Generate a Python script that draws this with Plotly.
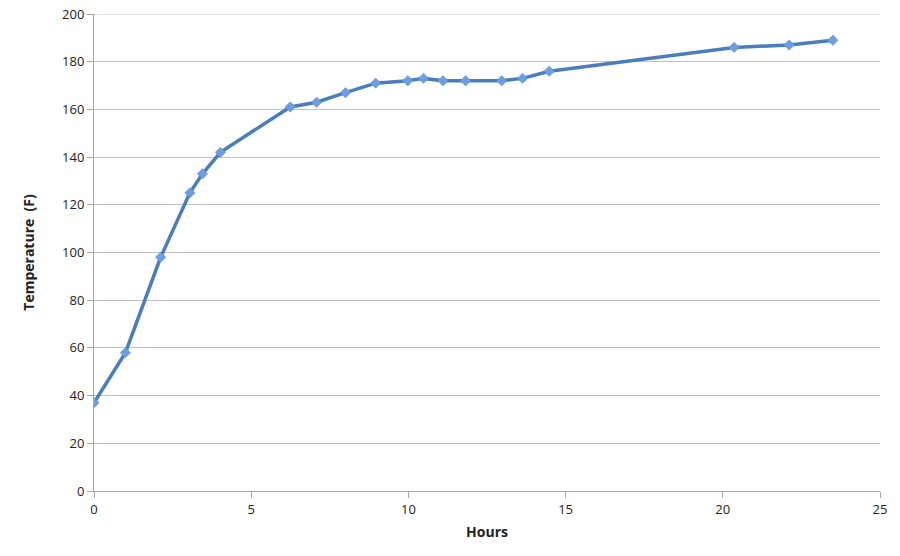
import plotly.graph_objects as go

hours = [0, 1.0, 2.12, 3.05, 3.45, 4.02, 6.24, 7.08, 8.0, 8.96, 9.98, 10.48,
         11.1, 11.82, 12.97, 13.63, 14.48, 20.36, 22.11, 23.5]
temps = [37, 58, 98, 125, 133, 142, 161, 163, 167, 171, 172, 173,
         172, 172, 172, 173, 176, 186, 187, 189]
y_max = 200

fig = go.Figure()
fig.add_trace(go.Scatter(
    x=hours, y=temps, mode="lines+markers",
    line=dict(color="#4a7ebb", width=3.5),
    marker=dict(symbol="diamond", size=8, color="#6d9ee0",
                line=dict(color="#5a8bd0", width=0.5)),
    showlegend=False,
))

# top gridline (plotly omits the grid line at the range edge)
fig.add_shape(type="line", xref="paper", yref="y", x0=0, x1=1, y0=y_max, y1=y_max,
              line=dict(color="#c0c0c0", width=1), layer="below")

fam = "Open Sans, Liberation Sans, Arial, sans-serif"
axis_font = dict(family=fam, size=13, color="#222222")
fig.update_layout(
    width=900, height=556,
    margin=dict(l=94, r=20, t=14, b=65),
    paper_bgcolor="white", plot_bgcolor="white",
    font=axis_font,
    xaxis=dict(
        range=[0, 25], dtick=5, tick0=0, automargin=False,
        showgrid=False, zeroline=False,
        showline=True, linecolor="#a6a6a6", linewidth=1,
        ticks="outside", ticklen=6, tickcolor="#a6a6a6",
        tickfont=axis_font,
        title=dict(text="<b>Hours</b>", font=dict(size=14, family=fam, color="#222222"), standoff=10),
    ),
    yaxis=dict(
        range=[0, y_max], dtick=20, tick0=0, automargin=False,
        showgrid=True, gridcolor="#c0c0c0", gridwidth=1, zeroline=False,
        showline=True, linecolor="#a6a6a6", linewidth=1,
        ticks="outside", ticklen=6, tickcolor="#a6a6a6",
        tickfont=axis_font,
        title=dict(text="<b>Temperature  (F)</b>", font=dict(size=14, family=fam, color="#222222"), standoff=24),
    ),
)

fig.write_html("out.html", config={"displayModeBar": False},
               post_script="document.body.style.margin='0';")
